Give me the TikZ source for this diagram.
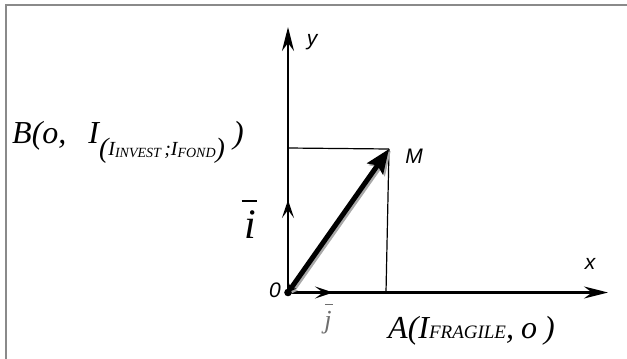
\documentclass[tikz,border=0pt]{standalone}
\usepackage{fontspec}
\setmainfont{Liberation Serif}
\setsansfont{Liberation Sans}
\usetikzlibrary{arrows.meta}
\definecolor{frameGray}{HTML}{8A8A8A}
\definecolor{shadowGray}{HTML}{A8A8A8}
\definecolor{barGray}{HTML}{6E6E6E}
\newcommand{\barlbl}[4]{\rlap{\hspace{#1}\raisebox{#2}{\rule{#3}{0.035em}}}#4}
\tikzset{
  % axes
  axis/.style={line width=2.2pt,-{Stealth[length=24pt,width=12pt,inset=8pt]}},
  % unit vectors on the axes
  unitvec/.style={line width=2.6pt,-{Stealth[length=18pt,width=12pt,inset=8pt]}},
  % vector OM with its shadow
  vecOM/.style={line width=5pt,{Stealth[length=8pt,width=9pt]}-{Stealth[length=24pt,width=19pt,inset=4pt]}},
  % projection lines
  guide/.style={line width=1.2pt},
  % labels
  axlbl/.style={font=\fontsize{21}{21}\selectfont\sffamily\itshape,inner sep=0pt},
  ptlbl/.style={font=\fontsize{32}{32}\selectfont\itshape,inner sep=0pt},
}

\begin{document}
\begin{tikzpicture}[x=1pt,y=-1pt]
  \useasboundingbox (0,0) rectangle (627,359);
  %% --- frame ---
  \draw[frameGray,line width=1.6pt] (6,359) -- (6,5) -- (627,5);

  %% --- points ---
  \coordinate (O) at (288,292.5);
  \coordinate (ytip) at (288,27);
  \coordinate (xtip) at (608,292.5);
  \coordinate (itip) at (288,200);
  \coordinate (jtip) at (333,292.5);
  \coordinate (M) at (389,149);
  \coordinate (My) at (288,148);
  \coordinate (Mx) at (386,292.5);

  %% --- axes and unit vectors ---
  \draw[axis] (O) -- (ytip);
  \draw[axis] (O) -- (xtip);
  \draw[unitvec] (O) -- (itip);
  \draw[unitvec] (O) -- (jtip);

  %% --- projections of M ---
  \draw[guide] (My) -- (M);
  \draw[guide] (M) -- (Mx);

  %% --- vector OM ---
  \draw[vecOM,shadowGray,transform canvas={shift={(1.8pt,-1.8pt)}}] (O) -- (M);
  \draw[vecOM] (O) -- (M);
  \fill (O) circle (3.8);

  %% --- labels ---
  \node[axlbl] (ylbl) at (312,42) {y};
  \node[axlbl] (xlbl) at (590,264) {x};
  \node[axlbl] (Mlbl) at (414,156) {M};
  \node[axlbl] (Olbl) at (275,290) {0};
  \node[inner sep=0pt,anchor=base,font=\fontsize{42}{42}\selectfont\itshape] (ilbl) at (250,238)
    {\barlbl{-0.06em}{0.86em}{0.36em}{i}};
  \node[inner sep=0pt,anchor=base,text=barGray,font=\fontsize{26}{26}\selectfont\itshape] (jlbl) at (328,328)
    {\barlbl{0.02em}{0.88em}{0.32em}{j}};
  \node[ptlbl,anchor=base west] (Blbl) at (12,143)
    {B(o,\hspace{22pt}I\raisebox{-14pt}{\fontsize{28}{28}\selectfont(}%
     \raisebox{-12pt}{\fontsize{20}{20}\selectfont I\raisebox{-2pt}{\fontsize{14}{14}\selectfont INVEST}\,;I\raisebox{-2pt}{\fontsize{14}{14}\selectfont FOND}}%
     \raisebox{-14pt}{\fontsize{28}{28}\selectfont)}\hspace{8pt})};
  \node[ptlbl,anchor=base west] (Albl) at (388,338)
    {A(I{\fontsize{19}{19}\selectfont FRAGILE},\hspace{7pt}o\hspace{7pt})};
\end{tikzpicture}
\end{document}
